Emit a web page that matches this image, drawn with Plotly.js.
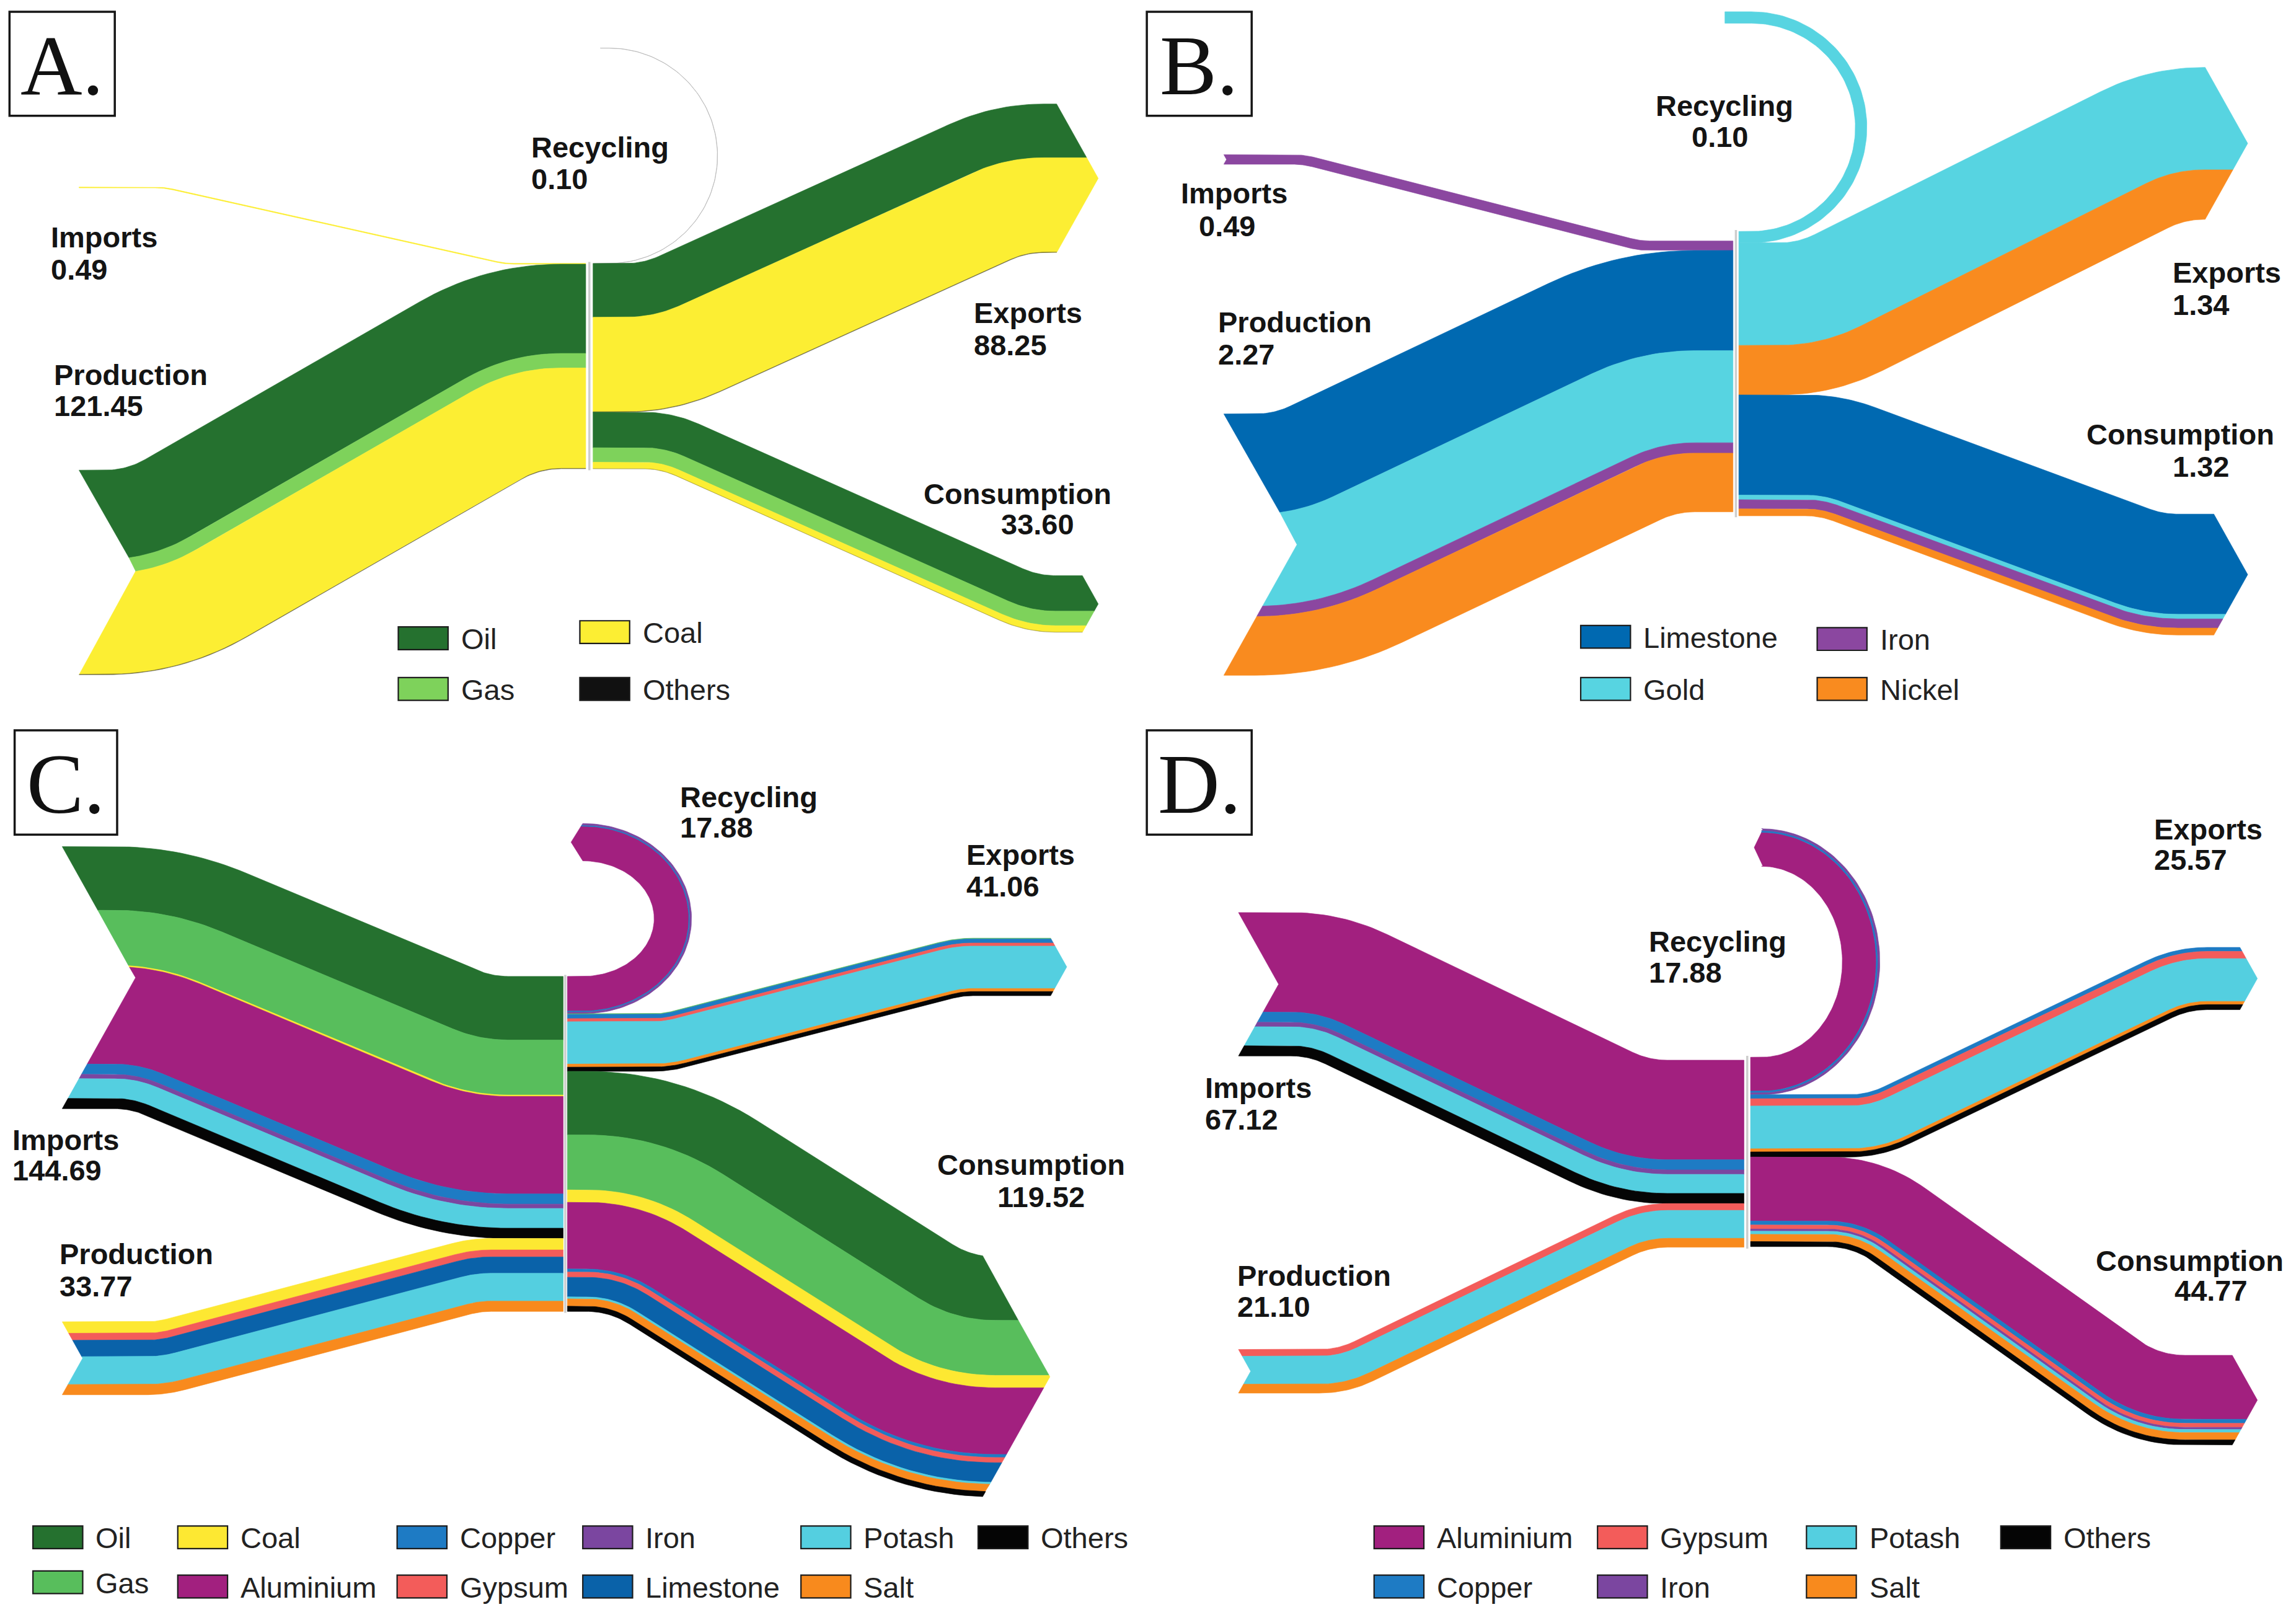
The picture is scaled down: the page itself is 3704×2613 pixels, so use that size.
<!DOCTYPE html>
<html><head><meta charset="utf-8">
<script src="https://cdn.plot.ly/plotly-3.0.1.min.js"></script>
<style>html,body{margin:0;padding:0;background:#fff;}#chart{width:3704px;height:2613px;}</style>
</head><body><div id="chart"></div>
<script>
// ===================== DATA =====================
// Panel A
const A_materials   = ['Oil','Gas','Coal','Others'];
const A_imports     = [0, 0, 0.49, 0];
const A_production  = [53.0, 8.6, 59.6, 0.25];
const A_exports     = [31.9, 0, 56.1, 0.25];
const A_consumption = [21.1, 8.6, 3.8, 0.1];
const A_recycling   = [0, 0, 0, 0.10];
const A_flowNames   = ['Recycling','Imports','Production','Exports','Consumption'];
const A_flowValues  = ['0.10','0.49','121.45','88.25','33.60'];
// Panel B
const B_materials   = ['Limestone','Gold','Iron','Nickel'];
const B_imports     = [0, 0, 0.083, 0];
const B_production  = [0.87, 0.80, 0.09, 0.51];
const B_exports     = [0, 0.89, 0, 0.43];
const B_consumption = [0.87, 0.04, 0.08, 0.06];
const B_recycling   = [0, 0.10, 0, 0];
const B_flowNames   = ['Recycling','Imports','Production','Exports','Consumption'];
const B_flowValues  = ['0.10','0.49','2.27','1.34','1.32'];
// Panel C
const C_materials   = ['Oil','Gas','Coal','Aluminium','Copper','Gypsum','Iron','Limestone','Potash','Salt','Others'];
const C_imports     = [35.4, 30.6, 0.8, 54.2, 5.7, 0, 2.4, 0, 11.0, 0, 5.7];
const C_production  = [0, 0, 6.4, 0, 0, 3.9, 0, 9.1, 15.5, 5.7, 0];
const C_exports     = [0, 0.4, 0, 0, 2.3, 1.7, 0, 0, 23.6, 1.7, 2.3];
const C_consumption = [35.4, 30.6, 6.9, 37.1, 1.7, 2.9, 0, 10.9, 1.1, 4.1, 2.9];
const C_recycling   = [0, 0, 0, 19.3, 0.6, 0, 0.9, 0, 0, 0, 0];
const C_flowNames   = ['Recycling','Exports','Imports','Production','Consumption'];
const C_flowValues  = ['17.88','41.06','144.69','33.77','119.52'];
// Panel D
const D_materials   = ['Aluminium','Copper','Gypsum','Iron','Potash','Salt','Others'];
const D_imports     = [47.0, 4.8, 0, 2.1, 9.0, 0, 4.8];
const D_production  = [0, 0, 3.2, 0, 13.2, 4.2, 0];
const D_exports     = [0, 1.9, 3.4, 0, 20.2, 1.5, 2.4];
const D_consumption = [30.2, 1.9, 1.9, 1.0, 1.5, 3.4, 2.4];
const D_recycling   = [16.0, 0.8, 0, 0.9, 0, 0, 0];
const D_flowNames   = ['Exports','Recycling','Imports','Production','Consumption'];
const D_flowValues  = ['25.57','17.88','67.12','21.10','44.77'];

// ===================== STYLES =====================
const COLORS = {
  A:{Oil:'#25712f',Gas:'#7ed25b',Coal:'#fcee33',Others:'#111111'},
  B:{Limestone:'#0069b1',Gold:'#57d4e1',Iron:'#8b47a0',Nickel:'#f98b1f'},
  C:{Oil:'#25712f',Gas:'#58be5c',Coal:'#fde832',Aluminium:'#a2207f',Copper:'#1e7bc4',Gypsum:'#f35c5a',Iron:'#7b46a0',Limestone:'#0a62a9',Potash:'#54cfe0',Salt:'#f88a1d',Others:'#050505'},
  D:{Aluminium:'#a2207f',Copper:'#1e7bc4',Gypsum:'#f35c5a',Iron:'#7b46a0',Potash:'#54cfe0',Salt:'#f88a1d',Others:'#050505'}
};
const STYLE = {
  notch:0.28, rcPad:55, pxPerUnit:3704/1568,
  labelFont:{family:'Liberation Sans, Arial, sans-serif',size:47,color:'#141414'},
  legendFont:{family:'Liberation Sans, Arial, sans-serif',size:47,color:'#222222'},
  letterFont:{family:'Liberation Serif, Times New Roman, serif',size:138,color:'#111111'}
};

// ===================== LAYOUT (design units: 1568 x 1106) =====================
const GEOM = {
  A:{scale:1.15, colL:400, colR:405, topL:179.8, topR:179.8,
     Imports:{outer:54,outTop:127.7,xa:112,xb:345},
     Production:{outer:54,outTop:321,xa:105,xb:350},
     Exports:{outer:750,outTop:71,xa:450,xb:690},
     Consumption:{outer:750,outTop:393,xa:455,xb:705},
     Recycling:{cx:416,rx:74,ry:73.5,endX:410,tip:0}},
  B:{scale:78.6, colL:1183.5, colR:1187.5, topL:164.5, topR:158,
     Imports:{outer:835.8,outTop:105.6,xa:890,xb:1120},
     Production:{outer:835.8,outTop:282.6,xa:890,xb:1125},
     Exports:{outer:1535,outTop:46,xa:1240,xb:1480},
     Consumption:{outer:1535,outTop:351,xa:1250,xb:1470},
     Recycling:{cx:1196,rx:75,ry:75,endX:1178,tip:0}},
  C:{scale:1.227, colL:384.6, colR:387.5, topL:666.6, topR:666.6,
     Imports:{outer:42.5,outTop:578,xa:107,xb:318},
     Production:{outer:42.5,outTop:902.4,xa:110,xb:325},
     Exports:{outer:728.5,outTop:640.5,xa:455,xb:655},
     Consumption:{outer:717,outTop:858,xa:440,xb:640},
     Recycling:{cx:398,rx:61.5,ry:52.2,endX:398,tip:8}},
  D:{scale:1.446, colL:1191, colR:1195.5, topL:723.8, topR:721.8,
     Imports:{outer:845.8,outTop:623,xa:905,xb:1115},
     Production:{outer:845.8,outTop:921.3,xa:917,xb:1123},
     Exports:{outer:1541.6,outTop:646.8,xa:1280,xb:1490},
     Consumption:{outer:1541.6,outTop:925.3,xa:1275,xb:1465},
     Recycling:{cx:1203,rx:68,ry:78,endX:1204,tip:6}}
};
const LETTER_BOX = {A:[6.5,8,78.4,79], B:[783.2,8,854.8,79], C:[10,498.6,80,569.8], D:[783.2,498.6,854.8,569.8]};
const LABEL_POS = {
  A:{Recycling:[[362,100.5],[362,122]],Imports:[[34,162],[34,184]],Production:[[36,256],[36,277]],Exports:[[664,213.5],[664,235.5]],Consumption:[[630,337],[683,358]]},
  B:{Recycling:[[1130,72],[1154.6,93.5]],Imports:[[805.7,131.7],[818,154.4]],Production:[[830.8,220],[830.8,242]],Exports:[[1483,186],[1483,208]],Consumption:[[1424,296.3],[1483,318.6]]},
  C:{Recycling:[[463.5,544.2],[463.5,565]],Exports:[[659.3,583.5],[659.3,605]],Imports:[[7.5,778],[7.5,799]],Production:[[40,856],[40,878]],Consumption:[[639.4,795],[680.3,817]]},
  D:{Exports:[[1470,566],[1470,587]],Recycling:[[1125,642.8],[1125,664]],Imports:[[822.2,742.6],[822.2,764]],Production:[[844.3,870.7],[844.3,892]],Consumption:[[1430.5,860.8],[1484,881]]}
};
const LEGEND_POS = {
  A:[['Oil',272,428],['Coal',396,423.8],['Gas',272,462.6],['Others',396,462.6]],
  B:[['Limestone',1079.5,427],['Iron',1241,428.5],['Gold',1079.5,462.6],['Nickel',1241,462.6]],
  C:[['Oil',22.5,1041.8],['Coal',121.4,1041.8],['Copper',271.2,1041.8],['Iron',398,1041.8],['Potash',547,1041.8],['Others',668,1041.8],
     ['Gas',22.5,1072.5],['Aluminium',121.4,1075.4],['Gypsum',271.2,1075.4],['Limestone',398,1075.4],['Salt',547,1075.4]],
  D:[['Aluminium',938.4,1041.8],['Gypsum',1091,1041.8],['Potash',1233.7,1041.8],['Others',1366.4,1041.8],
     ['Copper',938.4,1075.4],['Iron',1091,1075.4],['Salt',1233.7,1075.4]]
};
const LEG_W = 34, LEG_H = 15.5;

const PANELS = {
  A:{materials:A_materials,Imports:A_imports,Production:A_production,Exports:A_exports,Consumption:A_consumption,Recycling:A_recycling,names:A_flowNames,values:A_flowValues},
  B:{materials:B_materials,Imports:B_imports,Production:B_production,Exports:B_exports,Consumption:B_consumption,Recycling:B_recycling,names:B_flowNames,values:B_flowValues},
  C:{materials:C_materials,Imports:C_imports,Production:C_production,Exports:C_exports,Consumption:C_consumption,Recycling:C_recycling,names:C_flowNames,values:C_flowValues},
  D:{materials:D_materials,Imports:D_imports,Production:D_production,Exports:D_exports,Consumption:D_consumption,Recycling:D_recycling,names:D_flowNames,values:D_flowValues}
};

// ===================== GEOMETRY HELPERS =====================
const sum = a => a.reduce((s,v)=>s+v,0);
function bandPath(P, delta, Rc){
  const u=[],n=[];
  for(let i=0;i<3;i++){const dx=P[i+1][0]-P[i][0],dy=P[i+1][1]-P[i][1];const l=Math.hypot(dx,dy)||1;u.push([dx/l,dy/l]);n.push([-dy/l,dx/l]);}
  const Q=[[P[0][0]+delta*n[0][0],P[0][1]+delta*n[0][1]]];
  for(let i=1;i<=2;i++){const a=n[i-1],b=n[i];const k=1+u[i-1][0]*u[i][0]+u[i-1][1]*u[i][1];
    Q.push([P[i][0]+delta*(a[0]+b[0])/k,P[i][1]+delta*(a[1]+b[1])/k]);}
  Q.push([P[3][0]+delta*n[2][0],P[3][1]+delta*n[2][1]]);
  const L=[0,1,2].map(i=>Math.hypot(Q[i+1][0]-Q[i][0],Q[i+1][1]-Q[i][1]));
  const t=[0,0];
  for(let c=0;c<2;c++){const i=c+1,ua=u[i-1],ub=u[i];
    const cross=ua[0]*ub[1]-ua[1]*ub[0];
    const dot=Math.max(-1,Math.min(1,ua[0]*ub[0]+ua[1]*ub[1]));
    const r=Math.max(2,Rc-Math.sign(cross)*delta);
    t[c]=r*Math.tan(Math.acos(dot)/2);}
  t[0]=Math.min(t[0],0.95*L[0]);t[1]=Math.min(t[1],0.95*L[2]);
  if(t[0]+t[1]>0.98*L[1]){const f=0.98*L[1]/(t[0]+t[1]);t[0]*=f;t[1]*=f;}
  const pts=[Q[0]];
  for(let c=0;c<2;c++){const i=c+1,ua=u[i-1],ub=u[i],C=Q[i];
    const A=[C[0]-ua[0]*t[c],C[1]-ua[1]*t[c]],B=[C[0]+ub[0]*t[c],C[1]+ub[1]*t[c]];
    for(let s=0;s<=18;s++){const w=s/18,a=(1-w)*(1-w),b=2*w*(1-w),cc=w*w;
      pts.push([a*A[0]+b*C[0]+cc*B[0],a*A[1]+b*C[1]+cc*B[1]]);}}
  pts.push(Q[3]);
  return pts;
}
function clipX(pts,x0,x1){
  const out=[];const ip=(p,q,x)=>{const f=(x-p[0])/((q[0]-p[0])||1e-9);return [x,p[1]+f*(q[1]-p[1])];};
  for(let i=0;i<pts.length;i++){const p=pts[i];
    if(p[0]>=x0&&p[0]<=x1){if(out.length===0&&i>0&&pts[i-1][0]<x0)out.push(ip(pts[i-1],p,x0));out.push(p);}
    else if(p[0]>x1){if(i>0){if(out.length===0&&pts[i-1][0]<x0)out.push(ip(pts[i-1],p,x0));out.push(ip(pts[i-1],p,x1));}break;}}
  return out;
}
function inputLayers(g, vals, colTop, scale, colL){
  const Hb=sum(vals)*scale, yo=g.outTop+Hb/2, yc=colTop+Hb/2;
  const P=[[g.outer,yo],[g.xa,yo],[g.xb,yc],[colL,yc]];
  const Rc=Hb/2+STYLE.rcPad, depth=STYLE.notch*Hb;
  const sx=d=>g.outer+depth*(1-Math.abs(d)/(Hb/2||1));
  const res=[];let acc=0;
  vals.forEach((v,i)=>{if(v<=0)return;
    const d1=acc*scale-Hb/2,d2=(acc+v)*scale-Hb/2;acc+=v;
    const top=clipX(bandPath(P,d1,Rc),sx(d1),colL);
    const bot=clipX(bandPath(P,d2,Rc),sx(d2),colL).reverse();
    const poly=top.concat(bot);
    if(d1<0&&d2>0)poly.push([g.outer+depth,yo]);
    res.push({i,poly,th:v*scale});});
  return {res,H:Hb};
}
function outputLayers(g, vals, colTop, scale, colR){
  const Hb=sum(vals)*scale, yo=g.outTop+Hb/2, yc=colTop+Hb/2;
  const P=[[colR,yc],[g.xa,yc],[g.xb,yo],[g.outer,yo]];
  const Rc=Hb/2+STYLE.rcPad, depth=STYLE.notch*Hb;
  const ex=d=>g.outer-depth*Math.abs(d)/(Hb/2||1);
  const res=[];let acc=0;
  vals.forEach((v,i)=>{if(v<=0)return;
    const d1=acc*scale-Hb/2,d2=(acc+v)*scale-Hb/2;acc+=v;
    const top=clipX(bandPath(P,d1,Rc),colR,ex(d1));
    const bot=clipX(bandPath(P,d2,Rc),colR,ex(d2)).reverse();
    let poly=top.slice();
    if(d1<0&&d2>0)poly.push([g.outer,yo]);
    poly=poly.concat(bot);
    res.push({i,poly,th:v*scale});});
  return {res,H:Hb};
}
function recycleLayers(g, vals, colTop, scale, colR){
  const w=sum(vals)*scale, cy=colTop+w/2-g.ry;
  const bnd=d=>{const a=g.rx-w/2+d,b=g.ry-w/2+d;const pts=[[colR,cy+b]];
    if(g.cx>colR)pts.push([g.cx,cy+b]);
    for(let k=0;k<=90;k++){const t=Math.PI/2-Math.PI*k/90;pts.push([g.cx+a*Math.cos(t),cy+b*Math.sin(t)]);}
    const dd=d-w/2;pts.push([g.endX-g.tip*(1-Math.abs(dd)/(w/2||1)),cy-b]);return pts;};
  const res=[];let acc=0;
  vals.forEach((v,i)=>{if(v<=0)return;
    const d1=acc*scale,d2=(acc+v)*scale;acc+=v;
    let poly=bnd(d1);
    if(d1<w/2&&d2>w/2)poly.push([g.endX-g.tip,cy-g.ry]);
    poly=poly.concat(bnd(d2).reverse());
    res.push({i,poly,th:v*scale});});
  return {res,H:w};
}

// ===================== BUILD =====================
const traces=[], shapes=[], annotations=[];
function addPoly(poly,color,th){
  poly.push(poly[0]);
  const px=th*STYLE.pxPerUnit;              // real thickness in pixels
  const op=px<1.2?Math.max(0.3,px/1.2):1;   // hairlines render faint, like the original
  traces.push({type:'scatter',mode:'lines',x:poly.map(p=>p[0]),y:poly.map(p=>p[1]),fill:'toself',
    fillcolor:color,opacity:op,line:{color:color,width:0.7},hoverinfo:'skip',showlegend:false});
}
Object.keys(PANELS).forEach(key=>{
  const d=PANELS[key], g=GEOM[key], col=COLORS[key], mats=d.materials;
  const s=g.scale;
  const imp=inputLayers(g.Imports,d.Imports,g.topL,s,g.colL);
  const prd=inputLayers(g.Production,d.Production,g.topL+imp.H,s,g.colL);
  const rec=recycleLayers(g.Recycling,d.Recycling,g.topR,s,g.colR);
  const exp=outputLayers(g.Exports,d.Exports,g.topR+rec.H,s,g.colR);
  const con=outputLayers(g.Consumption,d.Consumption,g.topR+rec.H+exp.H,s,g.colR);
  [imp,prd,rec,exp,con].forEach(b=>b.res.forEach(l=>addPoly(l.poly,col[mats[l.i]],l.th)));
  const yTop=Math.min(g.topL,g.topR)-1, yBot=Math.max(g.topL+imp.H+prd.H,g.topR+rec.H+exp.H+con.H)+1;
  const xm=(g.colL+g.colR)/2;
  traces.push({type:'scatter',mode:'lines',x:[xm,xm],y:[yTop,yBot],line:{color:'#cdcdcd',width:3.5},hoverinfo:'skip',showlegend:false});
  d.names.forEach((nm,k)=>{
    const pos=LABEL_POS[key][nm];
    annotations.push({x:pos[0][0],y:pos[0][1],xref:'x',yref:'y',text:'<b>'+nm+'</b>',showarrow:false,xanchor:'left',yanchor:'middle',font:STYLE.labelFont});
    annotations.push({x:pos[1][0],y:pos[1][1],xref:'x',yref:'y',text:'<b>'+d.values[k]+'</b>',showarrow:false,xanchor:'left',yanchor:'middle',font:STYLE.labelFont});
  });
  LEGEND_POS[key].forEach(([m,x,y])=>{
    shapes.push({type:'rect',xref:'x',yref:'y',x0:x,x1:x+LEG_W,y0:y,y1:y+LEG_H,fillcolor:col[m],line:{color:'#1c1c1c',width:2.2}});
    annotations.push({x:x+LEG_W+8,y:y+LEG_H/2+0.5,xref:'x',yref:'y',text:m,showarrow:false,xanchor:'left',yanchor:'middle',font:STYLE.legendFont});
  });
  const bx=LETTER_BOX[key];
  shapes.push({type:'rect',xref:'x',yref:'y',x0:bx[0],x1:bx[2],y0:bx[1],y1:bx[3],line:{color:'#161616',width:3.5},fillcolor:'rgba(0,0,0,0)'});
  annotations.push({x:(bx[0]+bx[2])/2,y:(bx[1]+bx[3])/2+1,xref:'x',yref:'y',text:key+'.',showarrow:false,xanchor:'center',yanchor:'middle',font:STYLE.letterFont});
});

const layout={width:3704,height:2613,margin:{l:0,r:0,t:0,b:0},paper_bgcolor:'#ffffff',plot_bgcolor:'#ffffff',
  xaxis:{range:[0,1568],visible:false,fixedrange:true},
  yaxis:{range:[1106,0],visible:false,fixedrange:true},
  showlegend:false,shapes:shapes,annotations:annotations};
Plotly.newPlot('chart',traces,layout,{staticPlot:true,displayModeBar:false});
</script></body></html>
